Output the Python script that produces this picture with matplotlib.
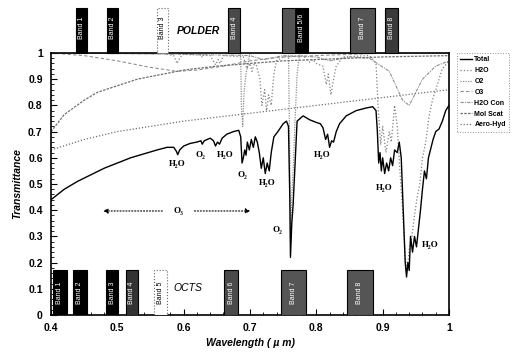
import matplotlib
matplotlib.use("Agg")
import matplotlib.pyplot as plt
from matplotlib.patches import Rectangle
from matplotlib.ticker import MultipleLocator, FuncFormatter

# ---- data ----
total_wl = [0.40, 0.42, 0.44, 0.46, 0.48, 0.50, 0.52, 0.54, 0.56, 0.575, 0.585, 0.589, 0.591, 0.594,
            0.60, 0.61, 0.62, 0.626, 0.628, 0.631, 0.64, 0.645, 0.648, 0.651, 0.654, 0.658, 0.665,
            0.675, 0.683, 0.686, 0.688, 0.690, 0.692, 0.694, 0.696, 0.699, 0.702, 0.705, 0.708,
            0.711, 0.714, 0.717, 0.720, 0.723, 0.726, 0.729, 0.732, 0.736, 0.742, 0.75, 0.755,
            0.758, 0.760, 0.761, 0.763, 0.765, 0.768, 0.771, 0.78, 0.79, 0.795, 0.80, 0.806, 0.81,
            0.814, 0.817, 0.820, 0.823, 0.826, 0.83, 0.835, 0.845, 0.86, 0.875, 0.885, 0.890, 0.892,
            0.894, 0.896, 0.898, 0.900, 0.903, 0.906, 0.909, 0.912, 0.915, 0.918, 0.922, 0.925,
            0.928, 0.931, 0.934, 0.936, 0.938, 0.940, 0.942, 0.945, 0.948, 0.951, 0.954, 0.957,
            0.960, 0.963, 0.966, 0.969, 0.972, 0.976, 0.980, 0.985, 0.990, 0.995, 1.000]
total_t = [0.44, 0.48, 0.51, 0.535, 0.56, 0.58, 0.60, 0.615, 0.63, 0.64, 0.64, 0.625, 0.612, 0.63,
           0.645, 0.655, 0.66, 0.665, 0.652, 0.665, 0.675, 0.665, 0.645, 0.66, 0.652, 0.675, 0.69,
           0.70, 0.705, 0.68, 0.58, 0.60, 0.63, 0.61, 0.66, 0.63, 0.67, 0.64, 0.68,
           0.66, 0.62, 0.56, 0.60, 0.54, 0.58, 0.55, 0.62, 0.68, 0.70, 0.73, 0.74,
           0.72, 0.45, 0.22, 0.35, 0.42, 0.58, 0.74, 0.76, 0.745, 0.74, 0.735, 0.73, 0.715,
           0.67, 0.69, 0.64, 0.665, 0.66, 0.70, 0.73, 0.76, 0.78, 0.79, 0.795, 0.78, 0.70,
           0.58, 0.62, 0.55, 0.60, 0.54, 0.58, 0.55, 0.60, 0.57, 0.63, 0.62, 0.66,
           0.60, 0.40, 0.20, 0.145, 0.20, 0.17, 0.30, 0.24, 0.30, 0.26, 0.33, 0.40,
           0.48, 0.55, 0.52, 0.60, 0.63, 0.67, 0.70, 0.71, 0.74, 0.78, 0.80]

h2o_wl = [0.40, 0.57, 0.585, 0.59, 0.595, 0.60, 0.64, 0.648, 0.652, 0.655, 0.66, 0.69, 0.695, 0.70,
          0.703, 0.707, 0.71, 0.715, 0.718, 0.722, 0.725, 0.728, 0.732, 0.736, 0.74, 0.75, 0.78,
          0.79, 0.795, 0.80, 0.81, 0.815, 0.818, 0.822, 0.826, 0.83, 0.84, 0.88, 0.89, 0.893,
          0.897, 0.90, 0.905, 0.91, 0.913, 0.918, 0.922, 0.926, 0.93, 0.934, 0.937, 0.94, 0.944,
          0.948, 0.952, 0.956, 0.96, 0.965, 0.97, 0.975, 0.98, 0.985, 0.99, 1.0]
h2o_t = [1.0, 0.998, 0.99, 0.96, 0.985, 0.995, 0.99, 0.955, 0.975, 0.96, 0.99, 0.985, 0.94, 0.96,
         0.93, 0.965, 0.95, 0.90, 0.80, 0.86, 0.78, 0.84, 0.80, 0.92, 0.97, 0.985, 0.99,
         0.965, 0.975, 0.96, 0.95, 0.88, 0.92, 0.84, 0.90, 0.95, 0.985, 0.99, 0.96, 0.80,
         0.65, 0.72, 0.62, 0.70, 0.66, 0.80, 0.72, 0.55, 0.40, 0.22, 0.17, 0.25, 0.30,
         0.38, 0.45, 0.50, 0.60, 0.66, 0.76, 0.82, 0.86, 0.90, 0.94, 0.97]

o2_wl = [0.40, 0.625, 0.628, 0.631, 0.686, 0.687, 0.689, 0.691, 0.694, 0.697, 0.70, 0.758, 0.760,
         0.761, 0.763, 0.765, 0.768, 0.771, 0.775, 1.0]
o2_t = [1.0, 1.0, 0.985, 1.0, 1.0, 0.80, 0.72, 0.85, 0.92, 0.96, 1.0, 1.0, 0.60,
        0.28, 0.45, 0.55, 0.75, 0.92, 1.0, 1.0]

o3_wl = [0.40, 0.45, 0.50, 0.55, 0.59, 0.62, 0.66, 0.70, 0.75, 0.80, 0.90, 1.00]
o3_t = [1.00, 0.99, 0.97, 0.945, 0.93, 0.935, 0.95, 0.97, 0.985, 0.99, 1.0, 1.0]

h2ocon_wl = [0.40, 0.60, 0.70, 0.72, 0.75, 0.80, 0.82, 0.85, 0.88, 0.91, 0.93, 0.94, 0.96, 0.98, 1.0]
h2ocon_t = [1.0, 0.995, 0.99, 0.975, 0.99, 0.985, 0.97, 0.985, 0.98, 0.93, 0.82, 0.80, 0.90, 0.95, 0.97]

molscat_wl = [0.40, 0.42, 0.45, 0.47, 0.50, 0.53, 0.56, 0.60, 0.65, 0.70, 0.75, 0.80, 0.90, 1.00]
molscat_t = [0.70, 0.765, 0.82, 0.85, 0.875, 0.90, 0.915, 0.935, 0.95, 0.96, 0.97, 0.975, 0.985, 0.99]

aero_wl = [0.40, 0.45, 0.50, 0.55, 0.60, 0.70, 0.80, 0.90, 1.00]
aero_t = [0.63, 0.67, 0.70, 0.72, 0.74, 0.77, 0.80, 0.83, 0.86]

polder_names = ["Band 1", "Band 2", "Band 3", "Band 4", "Band 5/6", "Band 7", "Band 8"]
polder_lo = [0.438, 0.484, 0.560, 0.667, 0.748, 0.851, 0.904]
polder_hi = [0.454, 0.501, 0.576, 0.685, 0.787, 0.889, 0.923]

octs_names = ["Band 1", "Band 2", "Band 3", "Band 4", "Band 5", "Band 6", "Band 7", "Band 8"]
octs_lo = [0.403, 0.433, 0.483, 0.513, 0.555, 0.661, 0.747, 0.846]
octs_hi = [0.424, 0.454, 0.501, 0.531, 0.575, 0.682, 0.785, 0.885]

# (label, wavelength, transmittance)
species_labels = [("H₂O", 0.590, 0.575), ("O₂", 0.625, 0.61), ("H₂O", 0.662, 0.61),
                  ("O₂", 0.689, 0.535), ("H₂O", 0.726, 0.505), ("O₂", 0.742, 0.325),
                  ("H₂O", 0.809, 0.61), ("H₂O", 0.903, 0.485), ("H₂O", 0.971, 0.267)]


def main():
    plt.rcParams["font.family"] = ["Liberation Sans", "DejaVu Sans"]

    fig = plt.figure(figsize=(5.18, 3.54), dpi=100)
    ax = fig.add_axes([51 / 518, 39 / 354, 398 / 518, 262 / 354])

    ax.plot(total_wl, total_t, color="black", lw=1.0, label="Total", zorder=5)
    ax.plot(h2o_wl, h2o_t, color="#808080", lw=0.9, ls=":", label="H2O")
    ax.plot(o2_wl, o2_t, color="#909090", lw=0.9, ls=(0, (1, 1)), label="O2")
    ax.plot(o3_wl, o3_t, color="#909090", lw=0.8, ls=(0, (3, 2)), label="O3")
    ax.plot(h2ocon_wl, h2ocon_t, color="#909090", lw=0.8, ls=(0, (3, 1, 1, 1)), label="H2O Con")
    ax.plot(molscat_wl, molscat_t, color="#707070", lw=0.9, ls=(0, (2, 1)), label="Mol Scat")
    ax.plot(aero_wl, aero_t, color="#707070", lw=0.9, ls=(0, (1, 1.5)), label="Aero-Hyd")

    ax.set_xlim(0.4, 1.0)
    ax.set_ylim(0, 1)
    ax.xaxis.set_major_locator(MultipleLocator(0.1))
    ax.yaxis.set_major_locator(MultipleLocator(0.1))
    ax.xaxis.set_minor_locator(MultipleLocator(0.02))
    ax.yaxis.set_minor_locator(MultipleLocator(0.02))
    fmt = FuncFormatter(lambda v, pos: "%g" % round(v, 2))
    ax.xaxis.set_major_formatter(fmt)
    ax.yaxis.set_major_formatter(fmt)
    ax.tick_params(which="both", direction="in", top=False, right=False)
    ax.tick_params(which="major", length=4, width=0.8, labelsize=7.5, pad=6)
    ax.tick_params(which="minor", length=2, width=0.6)
    for lbl in ax.get_xticklabels() + ax.get_yticklabels():
        lbl.set_fontweight("bold")
    for sp in ax.spines.values():
        sp.set_linewidth(1.2)

    ax.set_xlabel("Wavelength ( µ m)", fontsize=7.5, fontweight="bold", style="italic", labelpad=3)
    ax.set_ylabel("Transmittance", fontsize=7.5, fontweight="bold", style="italic", labelpad=4)

    # POLDER bands above the frame
    ptop = 1.172
    pcolors = ["black", "black", "white", "#4a4a4a", "#555555", "#555555", "#3a3a3a"]
    for name, lo, hi, fc in zip(polder_names, polder_lo, polder_hi, pcolors):
        dashed = fc == "white"
        ax.add_patch(Rectangle((lo, 1.0), hi - lo, ptop - 1.0, facecolor=fc,
                               edgecolor="#666666" if dashed else "black",
                               ls=":" if dashed else "-", lw=0.8, clip_on=False, zorder=6))
        if name == "Band 5/6":
            ax.add_patch(Rectangle((0.768, 1.0), hi - 0.768, ptop - 1.0, facecolor="black",
                                   edgecolor="black", lw=0.5, clip_on=False, zorder=7))
            xc = (0.768 + hi) / 2
        else:
            xc = (lo + hi) / 2
        ax.text(xc, 1.095, name, rotation=90, ha="center", va="center", fontsize=5,
                color="black" if dashed else "white", clip_on=False, zorder=8)

    # OCTS bands at the bottom
    otop = 0.17
    ocolors = ["black", "black", "black", "#333333", "white", "#4a4a4a", "#555555", "#555555"]
    for name, lo, hi, fc in zip(octs_names, octs_lo, octs_hi, ocolors):
        dashed = fc == "white"
        ax.add_patch(Rectangle((lo, 0.0), hi - lo, otop, facecolor=fc,
                               edgecolor="#666666" if dashed else "black",
                               ls=":" if dashed else "-", lw=0.8, zorder=6))
        ax.text((lo + hi) / 2, 0.085, name, rotation=90, ha="center", va="center", fontsize=5,
                color="black" if dashed else "white", zorder=8)

    ax.text(0.622, 1.085, "POLDER", fontsize=7.5, fontweight="bold", style="italic",
            ha="center", va="center", clip_on=False)
    ax.text(0.607, 0.103, "OCTS", fontsize=7.5, style="italic", ha="center", va="center")

    # species labels
    for txt, x, y in species_labels:
        ax.text(x, y, txt, fontsize=6.5, fontweight="bold", ha="center", va="center",
                family=["Liberation Serif", "DejaVu Serif"], zorder=9)

    # ozone band arrow
    ax.text(0.592, 0.397, "O₃", fontsize=6.5, fontweight="bold", ha="center", va="center",
            family=["Liberation Serif", "DejaVu Serif"])
    arrow = dict(arrowstyle="-|>", linestyle=":", color="black", lw=0.8, mutation_scale=7)
    ax.annotate("", xy=(0.474, 0.397), xytext=(0.572, 0.397), arrowprops=arrow)
    ax.annotate("", xy=(0.705, 0.397), xytext=(0.612, 0.397), arrowprops=arrow)

    leg = fig.legend(loc="upper left", bbox_to_anchor=(457 / 518, 1 - 53 / 354),
                     fontsize=5, handlelength=1.6, handletextpad=0.4, labelspacing=0.55,
                     borderpad=0.5, frameon=True, fancybox=False, borderaxespad=0)
    leg.get_frame().set_edgecolor("#777777")
    leg.get_frame().set_linewidth(0.7)
    leg.get_frame().set_linestyle(":")
    for t in leg.get_texts():
        t.set_fontweight("bold")

    fig.savefig("out.png", dpi=100)


if __name__ == "__main__":
    main()
